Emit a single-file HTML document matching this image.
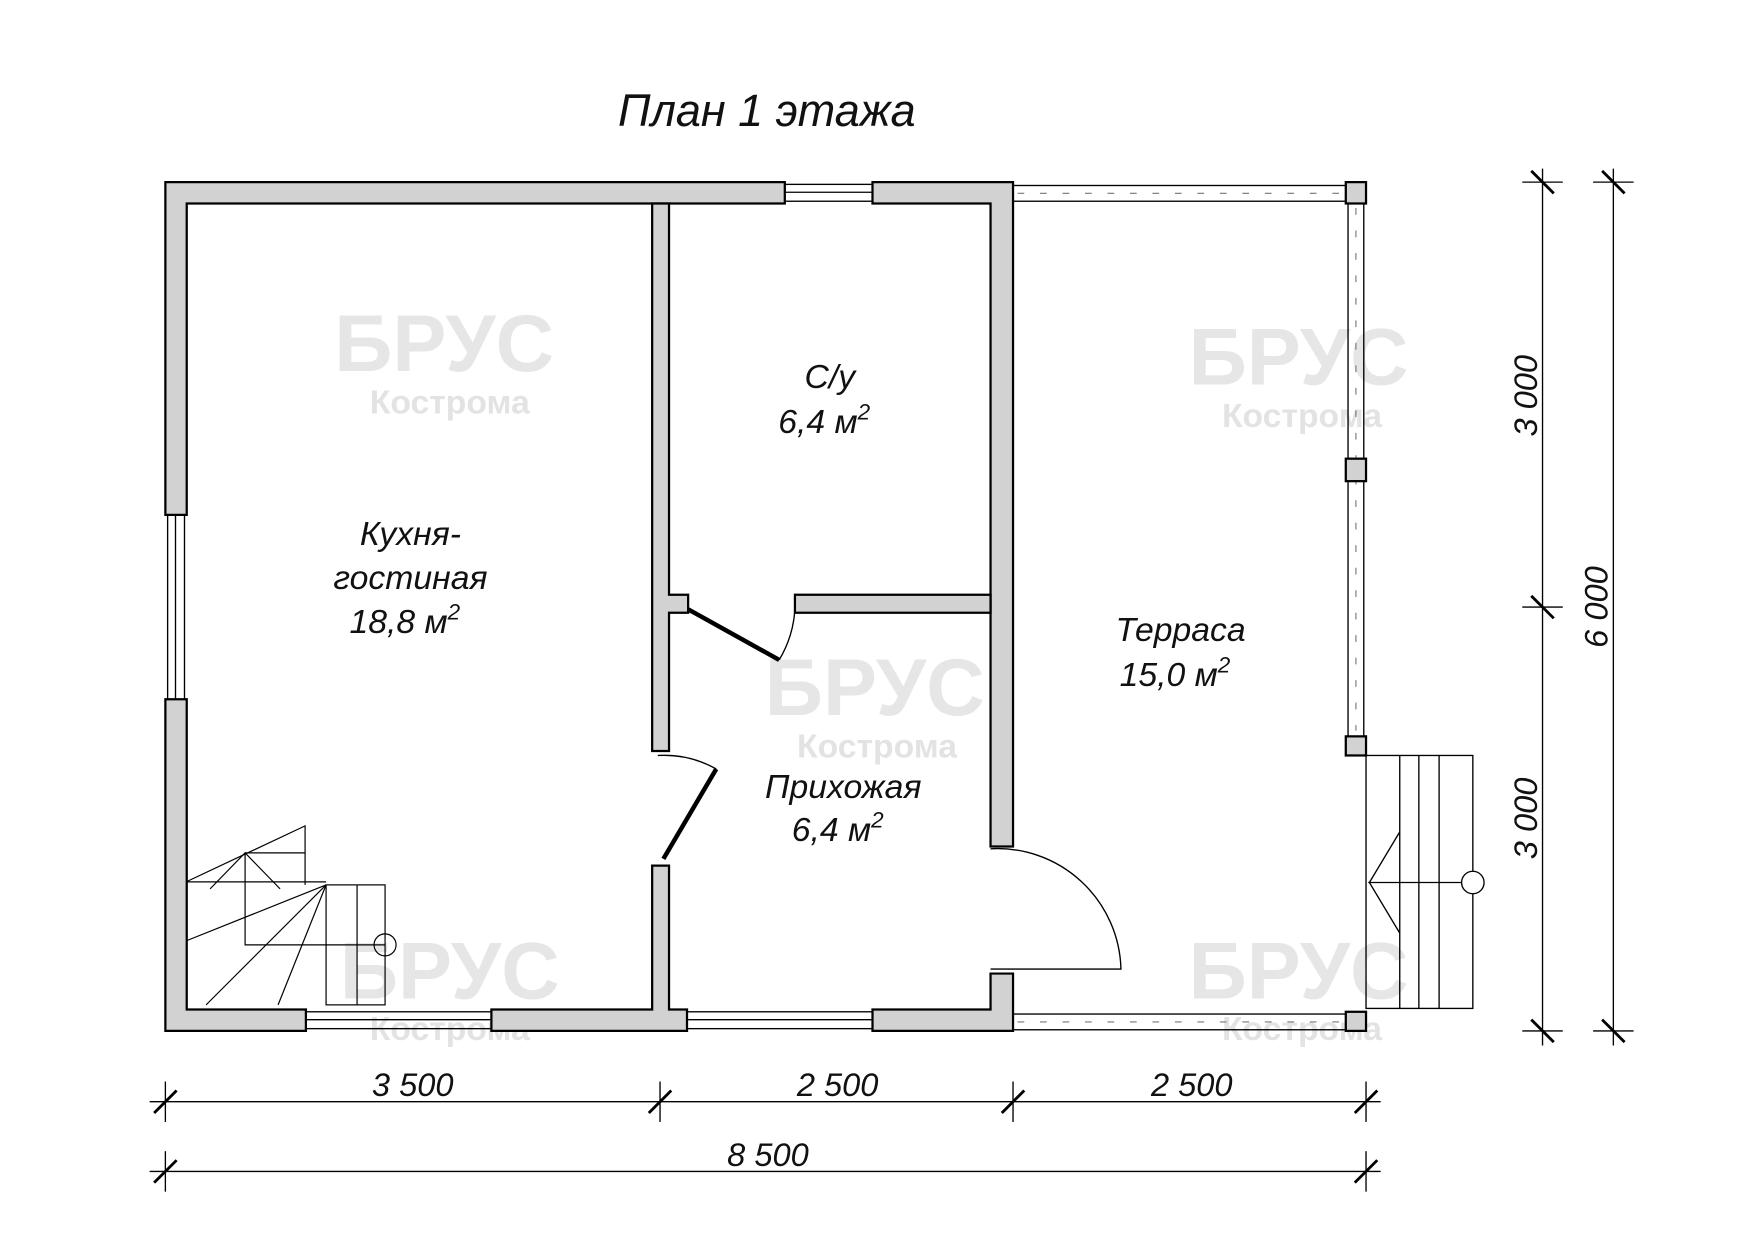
<!DOCTYPE html>
<html><head><meta charset="utf-8"><style>
html,body{margin:0;padding:0;background:#fff}
svg{display:block}
text{font-family:"Liberation Sans",sans-serif}
.t{font-style:italic;font-size:30px;fill:#111;text-anchor:middle}
.d{font-style:italic;font-size:29px;fill:#111;text-anchor:middle}
.w{fill:#d2d2d2;stroke:#000;stroke-width:2}
.wm{font-weight:bold;font-size:72px;fill:#e6e6e6;text-anchor:middle}
.wk{font-weight:bold;font-size:30px;fill:#e3e3e3;text-anchor:middle}
.l{stroke:#000;stroke-width:1.2;fill:none}
</style></head><body>
<svg width="1754" height="1240" viewBox="0 0 1560 1103" xmlns="http://www.w3.org/2000/svg">
<rect width="1560" height="1103" fill="#fff"/>
<!-- watermarks -->
<g>
<text class="wm" x="395" y="330">БРУС</text><text class="wk" x="400" y="368">Кострома</text>
<text class="wm" x="1155" y="342">БРУС</text><text class="wk" x="1158" y="380">Кострома</text>
<text class="wm" x="778" y="636">БРУС</text><text class="wk" x="780" y="674">Кострома</text>
<text class="wm" x="400" y="888">БРУС</text><text class="wk" x="400" y="925">Кострома</text>
<text class="wm" x="1155" y="888">БРУС</text><text class="wk" x="1158" y="925">Кострома</text>
</g>
<text x="682" y="112" style="font-style:italic;font-size:40px;fill:#111;text-anchor:middle">План 1 этажа</text>

<!-- outer walls -->
<path class="w" d="M147,162 H698 V181 H166 V458 H147 Z"/>
<path class="w" d="M776,162 H901 V753 H881 V181 H776 Z"/>
<path class="w" d="M147,622 H166 V898 H272 V917 H147 Z"/>
<path class="w" d="M437,898 H580 V770 H595 V898 H611 V917 H437 Z"/>
<path class="w" d="M776,898 H881 V866 H901 V917 H776 Z"/>
<!-- interior walls -->
<path class="w" d="M580,181 H595 V529 H612 V545 H595 V668 H580 Z"/>
<path class="w" d="M707,529 H881 V545 H707 Z"/>
<!-- windows -->
<g class="l" stroke-width="1">
<rect x="698" y="164" width="78" height="15"/><line x1="698" y1="171" x2="776" y2="171"/>
<rect x="149" y="458" width="15" height="164"/><line x1="156" y1="458" x2="156" y2="622"/>
<rect x="272" y="900" width="165" height="15"/><line x1="272" y1="907" x2="437" y2="907"/>
<rect x="611" y="900" width="165" height="15"/><line x1="611" y1="907" x2="776" y2="907"/>
</g>
<!-- terrace rails -->
<g class="l" stroke-width="1">
<rect x="901" y="165" width="296" height="14"/>
<rect x="901" y="902" width="296" height="14"/>
<rect x="1199" y="181" width="14" height="474"/>
</g>
<g fill="none" stroke="#777" stroke-width="1" stroke-dasharray="6 14">
<line x1="905" y1="172" x2="1195" y2="172"/>
<line x1="905" y1="909" x2="1195" y2="909"/>
<line x1="1206" y1="185" x2="1206" y2="650"/>
</g>
<g class="w">
<rect x="1197" y="162" width="18" height="19"/>
<rect x="1197" y="408" width="18" height="20"/>
<rect x="1197" y="655" width="18" height="17"/>
<rect x="1197" y="900" width="18" height="17"/>
</g>
<!-- doors -->
<g class="l">
<line x1="637" y1="684" x2="590" y2="764" stroke-width="4"/>
<path d="M585,672 A95,95 0 0 1 637,684"/>
<line x1="612" y1="542" x2="693" y2="587" stroke-width="4"/>
<path d="M693,587 A100,100 0 0 0 707,531"/>
<path d="M881,755 A110,110 0 0 1 997,862 H881"/>
</g>
<!-- stairs -->
<g transform="scale(0.8894)" class="l" stroke-width="1.4">
<polyline points="186,882 305,826 305,885"/>
<line x1="245" y1="853" x2="305" y2="853"/>
<line x1="186" y1="882" x2="326" y2="882"/>
<polyline points="245,853 245,945 385,945"/>
<polyline points="210,889 245,853 280,889"/>
<rect x="326" y="885" width="59" height="120"/>
<line x1="357" y1="885" x2="357" y2="1005"/>
<line x1="326" y1="885" x2="186" y2="941"/>
<line x1="326" y1="885" x2="206" y2="1005"/>
<line x1="326" y1="885" x2="278" y2="1005"/>
<circle cx="385" cy="945" r="11"/>
</g>
<!-- porch steps -->
<g class="l">
<rect x="1215" y="672" width="95" height="225"/>
<line x1="1245" y1="672" x2="1245" y2="897"/>
<line x1="1262" y1="672" x2="1262" y2="897"/>
<line x1="1280" y1="672" x2="1280" y2="897"/>
<line x1="1217" y1="785" x2="1300" y2="785"/>
<polyline points="1245,740 1218,785 1245,830"/>
<circle cx="1310" cy="785" r="10" fill="#fff"/>
</g>
<!-- room labels -->
<text class="t" x="365" y="485">Кухня-</text>
<text class="t" x="365" y="524">гостиная</text>
<text class="t" x="360" y="563">18,8 м<tspan dy="-12" font-size="20">2</tspan></text>
<text class="t" x="738" y="345">С/у</text>
<text class="t" x="733" y="385">6,4 м<tspan dy="-12" font-size="20">2</tspan></text>
<text class="t" x="1050" y="570">Терраса</text>
<text class="t" x="1045" y="610">15,0 м<tspan dy="-12" font-size="20">2</tspan></text>
<text class="t" x="750" y="710">Прихожая</text>
<text class="t" x="745" y="748">6,4 м<tspan dy="-12" font-size="20">2</tspan></text>
<!-- dimensions -->
<g class="l" stroke-width="1.2">
<line x1="133" y1="980" x2="1228" y2="980"/>
<line x1="133" y1="1042" x2="1228" y2="1042"/>
<line x1="147" y1="962" x2="147" y2="998"/><line x1="587" y1="962" x2="587" y2="998"/>
<line x1="901" y1="962" x2="901" y2="998"/><line x1="1215" y1="962" x2="1215" y2="998"/>
<line x1="147" y1="1024" x2="147" y2="1060"/><line x1="1215" y1="1024" x2="1215" y2="1060"/>
<line x1="1372" y1="150" x2="1372" y2="930"/>
<line x1="1435" y1="150" x2="1435" y2="930"/>
<line x1="1354" y1="162" x2="1390" y2="162"/><line x1="1354" y1="540" x2="1390" y2="540"/><line x1="1354" y1="917" x2="1390" y2="917"/>
<line x1="1417" y1="162" x2="1453" y2="162"/><line x1="1417" y1="917" x2="1453" y2="917"/>
</g>
<g stroke="#000" stroke-width="2.5">
<line x1="137" y1="990" x2="157" y2="970"/><line x1="577" y1="990" x2="597" y2="970"/>
<line x1="891" y1="990" x2="911" y2="970"/><line x1="1205" y1="990" x2="1225" y2="970"/>
<line x1="137" y1="1052" x2="157" y2="1032"/><line x1="1205" y1="1052" x2="1225" y2="1032"/>
<line x1="1362" y1="152" x2="1382" y2="172"/><line x1="1362" y1="530" x2="1382" y2="550"/><line x1="1362" y1="907" x2="1382" y2="927"/>
<line x1="1425" y1="152" x2="1445" y2="172"/><line x1="1425" y1="907" x2="1445" y2="927"/>
</g>
<text class="d" x="367" y="975">3 500</text>
<text class="d" x="745" y="975">2 500</text>
<text class="d" x="1060" y="975">2 500</text>
<text class="d" x="683" y="1037">8 500</text>
<text class="d" transform="translate(1367,352) rotate(-90)">3 000</text>
<text class="d" transform="translate(1367,728) rotate(-90)">3 000</text>
<text class="d" transform="translate(1430,540) rotate(-90)">6 000</text>
</svg>
</body></html>
